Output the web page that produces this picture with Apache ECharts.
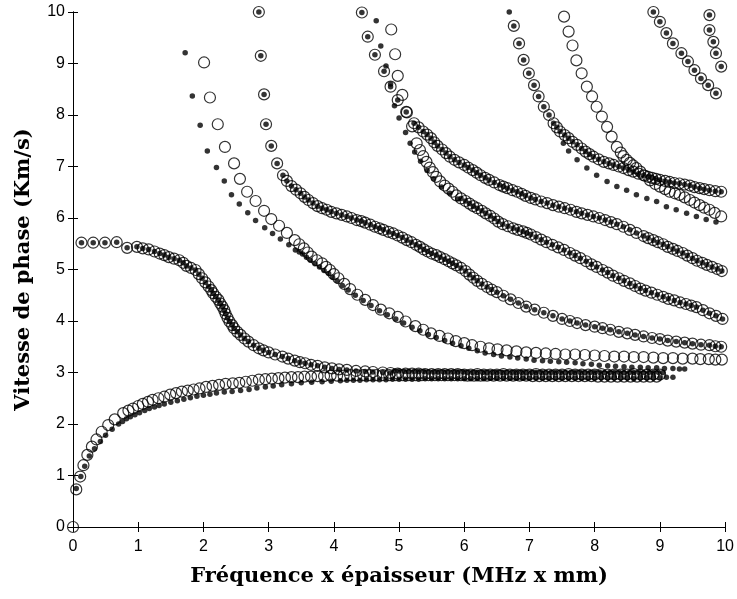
<!DOCTYPE html>
<html>
<head>
<meta charset="utf-8">
<script src="https://cdn.jsdelivr.net/npm/echarts@6/dist/echarts.min.js"></script>
<style>
html,body{margin:0;padding:0;background:#fff;}
#chart{width:737px;height:599px;}
</style>
</head>
<body>
<div id="chart"></div>
<script>
// ---- Data (x = fréquence x épaisseur, y = vitesse de phase) ----
var xTicks = [0,1,2,3,4,5,6,7,8,9,10];
var yTicks = [0,1,2,3,4,5,6,7,8,9,10];

// Mode A0 (open markers)
var modeA0_open = [[0,0],[0.05,0.73],[0.11,0.98],[0.16,1.2],[0.22,1.4],[0.29,1.56],[0.36,1.7],[0.44,1.85],[0.54,1.98],[0.64,2.09],[0.77,2.21],[0.85,2.26],[0.92,2.3],[1.0,2.35],[1.07,2.39],[1.15,2.43],[1.22,2.47],[1.31,2.5],[1.4,2.53],[1.49,2.57],[1.58,2.6],[1.67,2.63],[1.76,2.65],[1.85,2.67],[1.94,2.69],[2.04,2.72],[2.14,2.74],[2.24,2.76],[2.34,2.78],[2.45,2.79],[2.55,2.8],[2.65,2.82],[2.75,2.84],[2.85,2.86],[2.95,2.87],[3.05,2.88],[3.15,2.89],[3.25,2.9],[3.35,2.91],[3.45,2.91],[3.55,2.92],[3.65,2.92],[3.75,2.93],[3.85,2.93],[3.95,2.94],[4.05,2.94],[4.15,2.94],[4.25,2.95],[4.35,2.95],[4.45,2.95],[4.55,2.95],[4.65,2.95],[4.75,2.95],[4.85,2.95],[4.95,2.95],[5.05,2.95],[5.15,2.95],[5.25,2.95],[5.35,2.95],[5.45,2.95],[5.55,2.95],[5.65,2.95],[5.75,2.95],[5.85,2.95],[5.95,2.95],[6.05,2.94],[6.15,2.94],[6.25,2.94],[6.35,2.94],[6.45,2.94],[6.55,2.94],[6.65,2.94],[6.75,2.94],[6.85,2.94],[6.95,2.94],[7.05,2.93],[7.15,2.93],[7.25,2.93],[7.35,2.93],[7.45,2.93],[7.55,2.93],[7.65,2.93],[7.75,2.93],[7.85,2.93],[7.95,2.93],[8.05,2.92],[8.15,2.92],[8.25,2.92],[8.35,2.92],[8.45,2.92],[8.55,2.92],[8.65,2.92],[8.75,2.92],[8.85,2.92],[8.95,2.92]];
// Mode A0 (filled markers)
var modeA0_fill = [[0.05,0.75],[0.12,0.98],[0.18,1.18],[0.25,1.38],[0.33,1.52],[0.42,1.66],[0.5,1.78],[0.6,1.9],[0.7,2.0],[0.76,2.05],[0.82,2.1],[0.88,2.14],[0.95,2.18],[1.02,2.22],[1.1,2.26],[1.17,2.3],[1.25,2.33],[1.32,2.36],[1.4,2.39],[1.5,2.42],[1.6,2.45],[1.7,2.48],[1.8,2.51],[1.9,2.54],[2.0,2.56],[2.1,2.58],[2.2,2.6],[2.32,2.62],[2.44,2.63],[2.57,2.65],[2.7,2.67],[2.82,2.7],[2.95,2.72],[3.07,2.74],[3.2,2.76],[3.35,2.78],[3.5,2.8],[3.66,2.81],[3.82,2.82],[3.96,2.83],[4.1,2.84],[4.2,2.85],[4.3,2.85],[4.4,2.85],[4.5,2.86],[4.6,2.86],[4.7,2.86],[4.8,2.86],[4.9,2.87],[5.0,2.87],[5.1,2.87],[5.2,2.87],[5.3,2.87],[5.4,2.88],[5.5,2.88],[5.6,2.88],[5.7,2.88],[5.8,2.88],[5.9,2.88],[6.0,2.88],[6.1,2.88],[6.2,2.88],[6.3,2.88],[6.4,2.89],[6.5,2.89],[6.6,2.89],[6.7,2.89],[6.8,2.89],[6.9,2.89],[7.0,2.89],[7.1,2.89],[7.2,2.89],[7.3,2.89],[7.4,2.89],[7.5,2.89],[7.6,2.89],[7.7,2.89],[7.8,2.89],[7.9,2.89],[8.0,2.89],[8.1,2.9],[8.2,2.9],[8.3,2.9],[8.4,2.9],[8.5,2.9],[8.6,2.88],[8.7,2.9],[8.8,2.9],[8.9,2.9],[9.0,2.9],[9.1,2.91],[9.2,2.91]];
// Mode S0 (open + filled)
var modeS0 = [[0.13,5.52],[0.31,5.52],[0.49,5.52],[0.67,5.53],[0.83,5.42],[0.98,5.44],[1.07,5.41],[1.16,5.39],[1.25,5.35],[1.33,5.31],[1.4,5.28],[1.47,5.24],[1.55,5.21],[1.63,5.18],[1.69,5.13],[1.74,5.07],[1.81,5.03],[1.88,4.99],[1.93,4.91],[1.98,4.83],[2.03,4.75],[2.08,4.67],[2.12,4.6],[2.15,4.54],[2.19,4.47],[2.23,4.41],[2.26,4.34],[2.29,4.28],[2.32,4.21],[2.34,4.14],[2.37,4.06],[2.4,3.99],[2.44,3.92],[2.47,3.86],[2.52,3.79],[2.57,3.73],[2.63,3.66],[2.69,3.6],[2.77,3.53],[2.85,3.47],[2.92,3.43],[3.0,3.39],[3.1,3.35],[3.21,3.31],[3.3,3.27],[3.4,3.23],[3.48,3.2],[3.56,3.18],[3.65,3.15],[3.75,3.13],[3.86,3.1],[3.97,3.08],[4.08,3.06],[4.2,3.05],[4.34,3.03],[4.48,3.02],[4.6,3.01],[4.75,3.0],[4.87,2.99],[4.98,2.98],[5.1,2.98],[5.2,2.98],[5.3,2.98],[5.4,2.97],[5.5,2.97],[5.6,2.97],[5.7,2.97],[5.8,2.97],[5.9,2.97],[6.0,2.96],[6.1,2.96],[6.2,2.97],[6.3,2.96],[6.4,2.96],[6.5,2.96],[6.6,2.97],[6.7,2.96],[6.8,2.96],[6.9,2.96],[7.0,2.96],[7.1,2.97],[7.2,2.96],[7.3,2.96],[7.4,2.96],[7.5,2.96],[7.6,2.97],[7.7,2.96],[7.8,2.96],[7.9,2.96],[8.0,2.96],[8.1,2.97],[8.2,2.96],[8.3,2.96],[8.4,2.96],[8.5,2.96],[8.6,2.97],[8.7,2.96],[8.8,2.96],[8.9,2.96],[9.0,2.96]];
// Mode S0 filled markers beyond x = 4.9 (sit slightly above the open ones)
var modeS0_fillTail = [[4.93,3.03],[5.0,3.03],[5.08,3.02],[5.15,3.02],[5.23,3.02],[5.3,3.02],[5.38,3.02],[5.45,3.01],[5.53,3.01],[5.6,3.01],[5.68,3.01],[5.75,3.01],[5.83,3.01],[5.9,3.01],[5.98,3.01],[6.05,3.0],[6.13,3.0],[6.2,3.0],[6.28,3.0],[6.35,3.0],[6.43,3.0],[6.5,3.0],[6.58,3.0],[6.65,3.0],[6.73,3.0],[6.8,3.0],[6.88,3.0],[6.95,3.0],[7.03,3.0],[7.1,3.0],[7.18,3.0],[7.25,3.0],[7.33,3.0],[7.4,3.0],[7.48,3.0],[7.55,3.0],[7.63,3.0],[7.7,3.0],[7.78,3.0],[7.85,3.0],[7.93,3.0],[8.0,3.0],[8.08,3.0],[8.15,3.0],[8.23,3.0],[8.3,3.0],[8.38,3.0],[8.45,3.0],[8.53,3.0],[8.6,3.0],[8.68,3.0],[8.75,3.0],[8.83,3.0],[8.9,3.0],[8.98,3.0],[9.05,3.0]];
// Mode A1
var modeA1_open = [[2.01,9.02],[2.1,8.34],[2.22,7.82],[2.33,7.38],[2.47,7.06],[2.56,6.76],[2.67,6.51],[2.8,6.33],[2.93,6.14],[3.04,5.98],[3.16,5.85],[3.28,5.71],[3.4,5.57],[3.47,5.49],[3.54,5.41],[3.6,5.33],[3.66,5.25],[3.74,5.18],[3.82,5.12],[3.88,5.05],[3.94,4.99],[4.0,4.91],[4.07,4.83],[4.16,4.72],[4.25,4.62],[4.36,4.51],[4.48,4.41],[4.6,4.31],[4.72,4.22],[4.85,4.15],[4.98,4.08],[5.1,3.99],[5.25,3.9],[5.37,3.83],[5.49,3.76],[5.62,3.71],[5.75,3.66],[5.87,3.61],[6.0,3.57],[6.12,3.53],[6.25,3.5],[6.38,3.47],[6.51,3.45],[6.65,3.43],[6.8,3.41],[6.95,3.39],[7.1,3.38],[7.25,3.37],[7.4,3.36],[7.55,3.35],[7.7,3.35],[7.85,3.34],[8.0,3.33],[8.15,3.32],[8.3,3.31],[8.45,3.31],[8.6,3.3],[8.75,3.3],[8.9,3.29],[9.05,3.28],[9.2,3.28],[9.35,3.27],[9.5,3.27],[9.62,3.26],[9.75,3.26],[9.85,3.25],[9.95,3.25]];
var modeA1_fill = [[1.72,9.21],[1.83,8.37],[1.95,7.8],[2.06,7.3],[2.2,6.98],[2.32,6.72],[2.43,6.45],[2.55,6.27],[2.68,6.1],[2.8,5.95],[2.94,5.81],[3.06,5.7],[3.18,5.59],[3.31,5.48],[3.41,5.38],[3.47,5.34],[3.52,5.3],[3.58,5.24],[3.64,5.18],[3.71,5.11],[3.78,5.05],[3.85,4.98],[3.92,4.92],[3.98,4.85],[4.05,4.78],[4.13,4.69],[4.22,4.6],[4.33,4.5],[4.45,4.4],[4.57,4.3],[4.7,4.2],[4.82,4.12],[4.95,4.04],[5.07,3.96],[5.2,3.88],[5.32,3.81],[5.45,3.74],[5.57,3.68],[5.7,3.62],[5.82,3.57],[5.95,3.52],[6.07,3.47],[6.2,3.42],[6.32,3.38],[6.45,3.35],[6.57,3.32],[6.7,3.3],[6.82,3.28],[6.95,3.26],[7.07,3.24],[7.2,3.23],[7.32,3.22],[7.45,3.21],[7.57,3.2],[7.7,3.19],[7.82,3.17],[7.95,3.16],[8.07,3.14],[8.2,3.13],[8.32,3.12],[8.45,3.11],[8.57,3.1],[8.7,3.1],[8.82,3.09],[8.95,3.09],[9.07,3.08],[9.2,3.08],[9.3,3.07],[9.38,3.07]];
// Mode S1 (open + filled)
var modeS1 = [[2.85,10.0],[2.88,9.15],[2.93,8.4],[2.96,7.82],[3.04,7.4],[3.13,7.06],[3.22,6.83],[3.28,6.72],[3.35,6.62],[3.42,6.55],[3.49,6.48],[3.55,6.41],[3.61,6.35],[3.68,6.29],[3.75,6.23],[3.82,6.19],[3.89,6.16],[3.96,6.12],[4.04,6.09],[4.12,6.06],[4.2,6.03],[4.27,6.0],[4.35,5.96],[4.42,5.94],[4.48,5.91],[4.56,5.87],[4.63,5.83],[4.7,5.8],[4.76,5.77],[4.84,5.73],[4.91,5.7],[4.98,5.66],[5.05,5.62],[5.12,5.57],[5.19,5.53],[5.26,5.48],[5.32,5.44],[5.38,5.39],[5.44,5.35],[5.5,5.31],[5.57,5.28],[5.63,5.24],[5.7,5.2],[5.76,5.16],[5.82,5.12],[5.88,5.08],[5.95,5.03],[6.02,4.97],[6.08,4.9],[6.14,4.84],[6.2,4.78],[6.27,4.72],[6.35,4.66],[6.42,4.61],[6.5,4.56],[6.6,4.49],[6.71,4.42],[6.83,4.35],[6.95,4.28],[7.08,4.22],[7.22,4.16],[7.36,4.1],[7.5,4.04],[7.62,4.0],[7.73,3.96],[7.86,3.92],[8.0,3.89],[8.12,3.86],[8.24,3.83],[8.37,3.79],[8.5,3.76],[8.62,3.73],[8.75,3.7],[8.88,3.67],[9.0,3.65],[9.12,3.62],[9.25,3.6],[9.38,3.58],[9.5,3.56],[9.63,3.54],[9.76,3.53],[9.85,3.51],[9.94,3.5]];
// Mode P (open + filled)
var modeP = [[4.43,9.99],[4.52,9.52],[4.63,9.17],[4.77,8.85],[4.87,8.55],[4.98,8.29],[5.11,8.06],[5.23,7.84],[5.3,7.76],[5.37,7.68],[5.43,7.62],[5.49,7.55],[5.54,7.47],[5.59,7.4],[5.66,7.33],[5.72,7.26],[5.78,7.19],[5.85,7.13],[5.92,7.08],[6.0,7.03],[6.06,6.98],[6.13,6.93],[6.19,6.88],[6.25,6.83],[6.32,6.78],[6.38,6.74],[6.46,6.69],[6.54,6.64],[6.6,6.61],[6.66,6.58],[6.74,6.54],[6.81,6.51],[6.88,6.47],[6.94,6.43],[7.02,6.39],[7.09,6.36],[7.18,6.32],[7.27,6.29],[7.36,6.25],[7.45,6.22],[7.54,6.19],[7.63,6.16],[7.72,6.12],[7.8,6.09],[7.89,6.06],[7.98,6.03],[8.07,6.0],[8.16,5.96],[8.25,5.92],[8.34,5.88],[8.44,5.83],[8.54,5.77],[8.64,5.71],[8.75,5.65],[8.82,5.61],[8.9,5.57],[8.97,5.53],[9.05,5.49],[9.12,5.44],[9.2,5.4],[9.27,5.36],[9.35,5.32],[9.42,5.27],[9.5,5.22],[9.57,5.17],[9.65,5.13],[9.72,5.09],[9.8,5.05],[9.88,5.01],[9.95,4.97]];
// Mode Q
var modeQ_open = [[4.88,9.66],[4.94,9.18],[4.98,8.76],[5.05,8.39],[5.12,8.05],[5.2,7.78],[5.27,7.45],[5.32,7.32],[5.37,7.2],[5.42,7.09],[5.47,6.98],[5.52,6.89],[5.57,6.8],[5.63,6.71],[5.7,6.63],[5.76,6.57],[5.82,6.51],[5.88,6.44],[5.95,6.38],[6.02,6.33],[6.08,6.28],[6.14,6.23],[6.2,6.19],[6.27,6.14],[6.33,6.09],[6.4,6.04],[6.46,5.99],[6.52,5.93],[6.59,5.88],[6.67,5.84],[6.75,5.8],[6.82,5.77],[6.9,5.74],[6.96,5.71],[7.02,5.68],[7.1,5.63],[7.18,5.58],[7.26,5.53],[7.35,5.48],[7.44,5.43],[7.53,5.38],[7.62,5.32],[7.7,5.27],[7.78,5.22],[7.87,5.16],[7.95,5.1],[8.03,5.05],[8.12,4.99],[8.2,4.94],[8.28,4.88],[8.37,4.83],[8.45,4.78],[8.54,4.73],[8.62,4.68],[8.7,4.63],[8.78,4.59],[8.87,4.55],[8.96,4.51],[9.05,4.47],[9.13,4.43],[9.22,4.4],[9.31,4.36],[9.4,4.33],[9.48,4.3],[9.56,4.27],[9.66,4.21],[9.76,4.15],[9.86,4.1],[9.96,4.04]];
var modeQ_fillHead = [[4.65,9.83],[4.72,9.34],[4.8,8.95],[4.87,8.6],[4.93,8.18],[5.0,7.94],[5.1,7.66],[5.17,7.45],[5.24,7.28],[5.33,7.1],[5.43,6.92],[5.53,6.76],[5.65,6.6],[5.78,6.48],[5.9,6.37]];
// Mode R
var modeR = [[6.76,9.73],[6.84,9.39],[6.91,9.07],[6.99,8.81],[7.07,8.58],[7.14,8.36],[7.22,8.16],[7.3,8.0],[7.37,7.84],[7.42,7.76],[7.47,7.68],[7.54,7.61],[7.6,7.55],[7.66,7.48],[7.73,7.42],[7.8,7.35],[7.86,7.29],[7.92,7.24],[7.98,7.19],[8.06,7.14],[8.14,7.09],[8.22,7.06],[8.29,7.03],[8.37,7.0],[8.44,6.97],[8.52,6.93],[8.59,6.9],[8.67,6.86],[8.75,6.83],[8.82,6.8],[8.88,6.78],[8.94,6.76],[9.0,6.74],[9.08,6.72],[9.15,6.7],[9.22,6.68],[9.3,6.67],[9.38,6.65],[9.46,6.63],[9.53,6.6],[9.61,6.58],[9.68,6.56],[9.76,6.54],[9.85,6.52],[9.94,6.51]];
var modeR_fillExtra = [[6.69,10.0],[7.52,7.45],[7.6,7.3],[7.73,7.13],[7.88,6.97],[8.03,6.83],[8.19,6.71],[8.34,6.61],[8.49,6.54],[8.64,6.45],[8.8,6.38],[8.95,6.32],[9.1,6.22],[9.25,6.16],[9.41,6.09],[9.56,6.03],[9.71,5.97],[9.86,5.92]];
// Mode T (open only)
var modeT_open = [[7.53,9.91],[7.6,9.62],[7.66,9.35],[7.72,9.06],[7.8,8.81],[7.88,8.55],[7.96,8.36],[8.03,8.16],[8.11,7.97],[8.19,7.77],[8.26,7.58],[8.34,7.38],[8.4,7.27],[8.44,7.2],[8.49,7.13],[8.54,7.07],[8.59,7.02],[8.64,6.97],[8.7,6.9],[8.77,6.82],[8.85,6.73],[8.93,6.66],[9.0,6.61],[9.08,6.56],[9.15,6.51],[9.23,6.48],[9.3,6.45],[9.38,6.4],[9.46,6.35],[9.53,6.3],[9.61,6.25],[9.68,6.2],[9.76,6.16],[9.84,6.1],[9.94,6.03]];
// Modes near the top-right corner (open + filled)
var modeB = [[8.9,10.0],[9.0,9.81],[9.1,9.59],[9.2,9.39],[9.33,9.2],[9.43,9.04],[9.53,8.87],[9.63,8.71],[9.74,8.58],[9.86,8.42]];
var modeC = [[9.76,9.94],[9.76,9.65],[9.82,9.42],[9.86,9.2],[9.94,8.94]];

// ---- Build series ----
var openPts = [].concat(modeA0_open, modeS0, modeA1_open, modeS1, modeP, modeQ_open, modeR, modeT_open, modeB, modeC);
var fillPts = [].concat(modeA0_fill, modeS0.filter(function(p){return p[0] < 4.9;}), modeS0_fillTail,
  modeA1_fill, modeS1, modeP, modeQ_fillHead,
  modeQ_open.filter(function(p){return p[0] > 5.9;}), modeR, modeR_fillExtra, modeB, modeC);

var chart = echarts.init(document.getElementById('chart'), null, {renderer:'canvas'});
var lbl = {color:'#000', fontFamily:'Liberation Sans', fontSize:16};
var axLine = {show:true, lineStyle:{color:'#000', width:1}};
var tick = {show:true, inside:true, length:5, lineStyle:{color:'#000', width:1}};
var titleFont = {color:'#000', fontFamily:'DejaVu Serif', fontWeight:'bold', fontSize:21};

chart.setOption({
  animation:false,
  backgroundColor:'#fff',
  grid:{left:73, right:8, top:12, bottom:72, containLabel:false},
  xAxis:[
    {type:'value', min:0, max:10, interval:1, position:'bottom',
     axisLine:axLine, axisTick:tick, splitLine:{show:false},
     axisLabel:Object.assign({margin:12, formatter:function(v){return xTicks.indexOf(v)>=0?String(v):'';}}, lbl),
     name:'Fréquence x épaisseur (MHz x mm)', nameLocation:'middle', nameGap:39, nameTextStyle:titleFont},
    {type:'value', min:0, max:10, interval:1, position:'top',
     axisLine:axLine, axisTick:tick, splitLine:{show:false}, axisLabel:{show:false}}
  ],
  yAxis:[
    {type:'value', min:0, max:10, interval:1, position:'left',
     axisLine:axLine, axisTick:tick, splitLine:{show:false},
     axisLabel:Object.assign({margin:8, formatter:function(v){return yTicks.indexOf(v)>=0?String(v):'';}}, lbl),
     name:'Vitesse de phase (Km/s)', nameLocation:'middle', nameGap:39, nameTextStyle:titleFont},
    {type:'value', min:0, max:10, interval:1, position:'right',
     axisLine:axLine, axisTick:tick, splitLine:{show:false}, axisLabel:{show:false}}
  ],
  series:[
    {type:'scatter', name:'open', data:openPts, symbol:'circle', symbolSize:11, clip:false, large:false,
     itemStyle:{color:'rgba(0,0,0,0)', borderColor:'#000', borderWidth:1.2}},
    {type:'scatter', name:'filled', data:fillPts, symbol:'circle', symbolSize:5.5, clip:false, large:false,
     itemStyle:{color:'#000'}}
  ]
});
</script>
</body>
</html>
